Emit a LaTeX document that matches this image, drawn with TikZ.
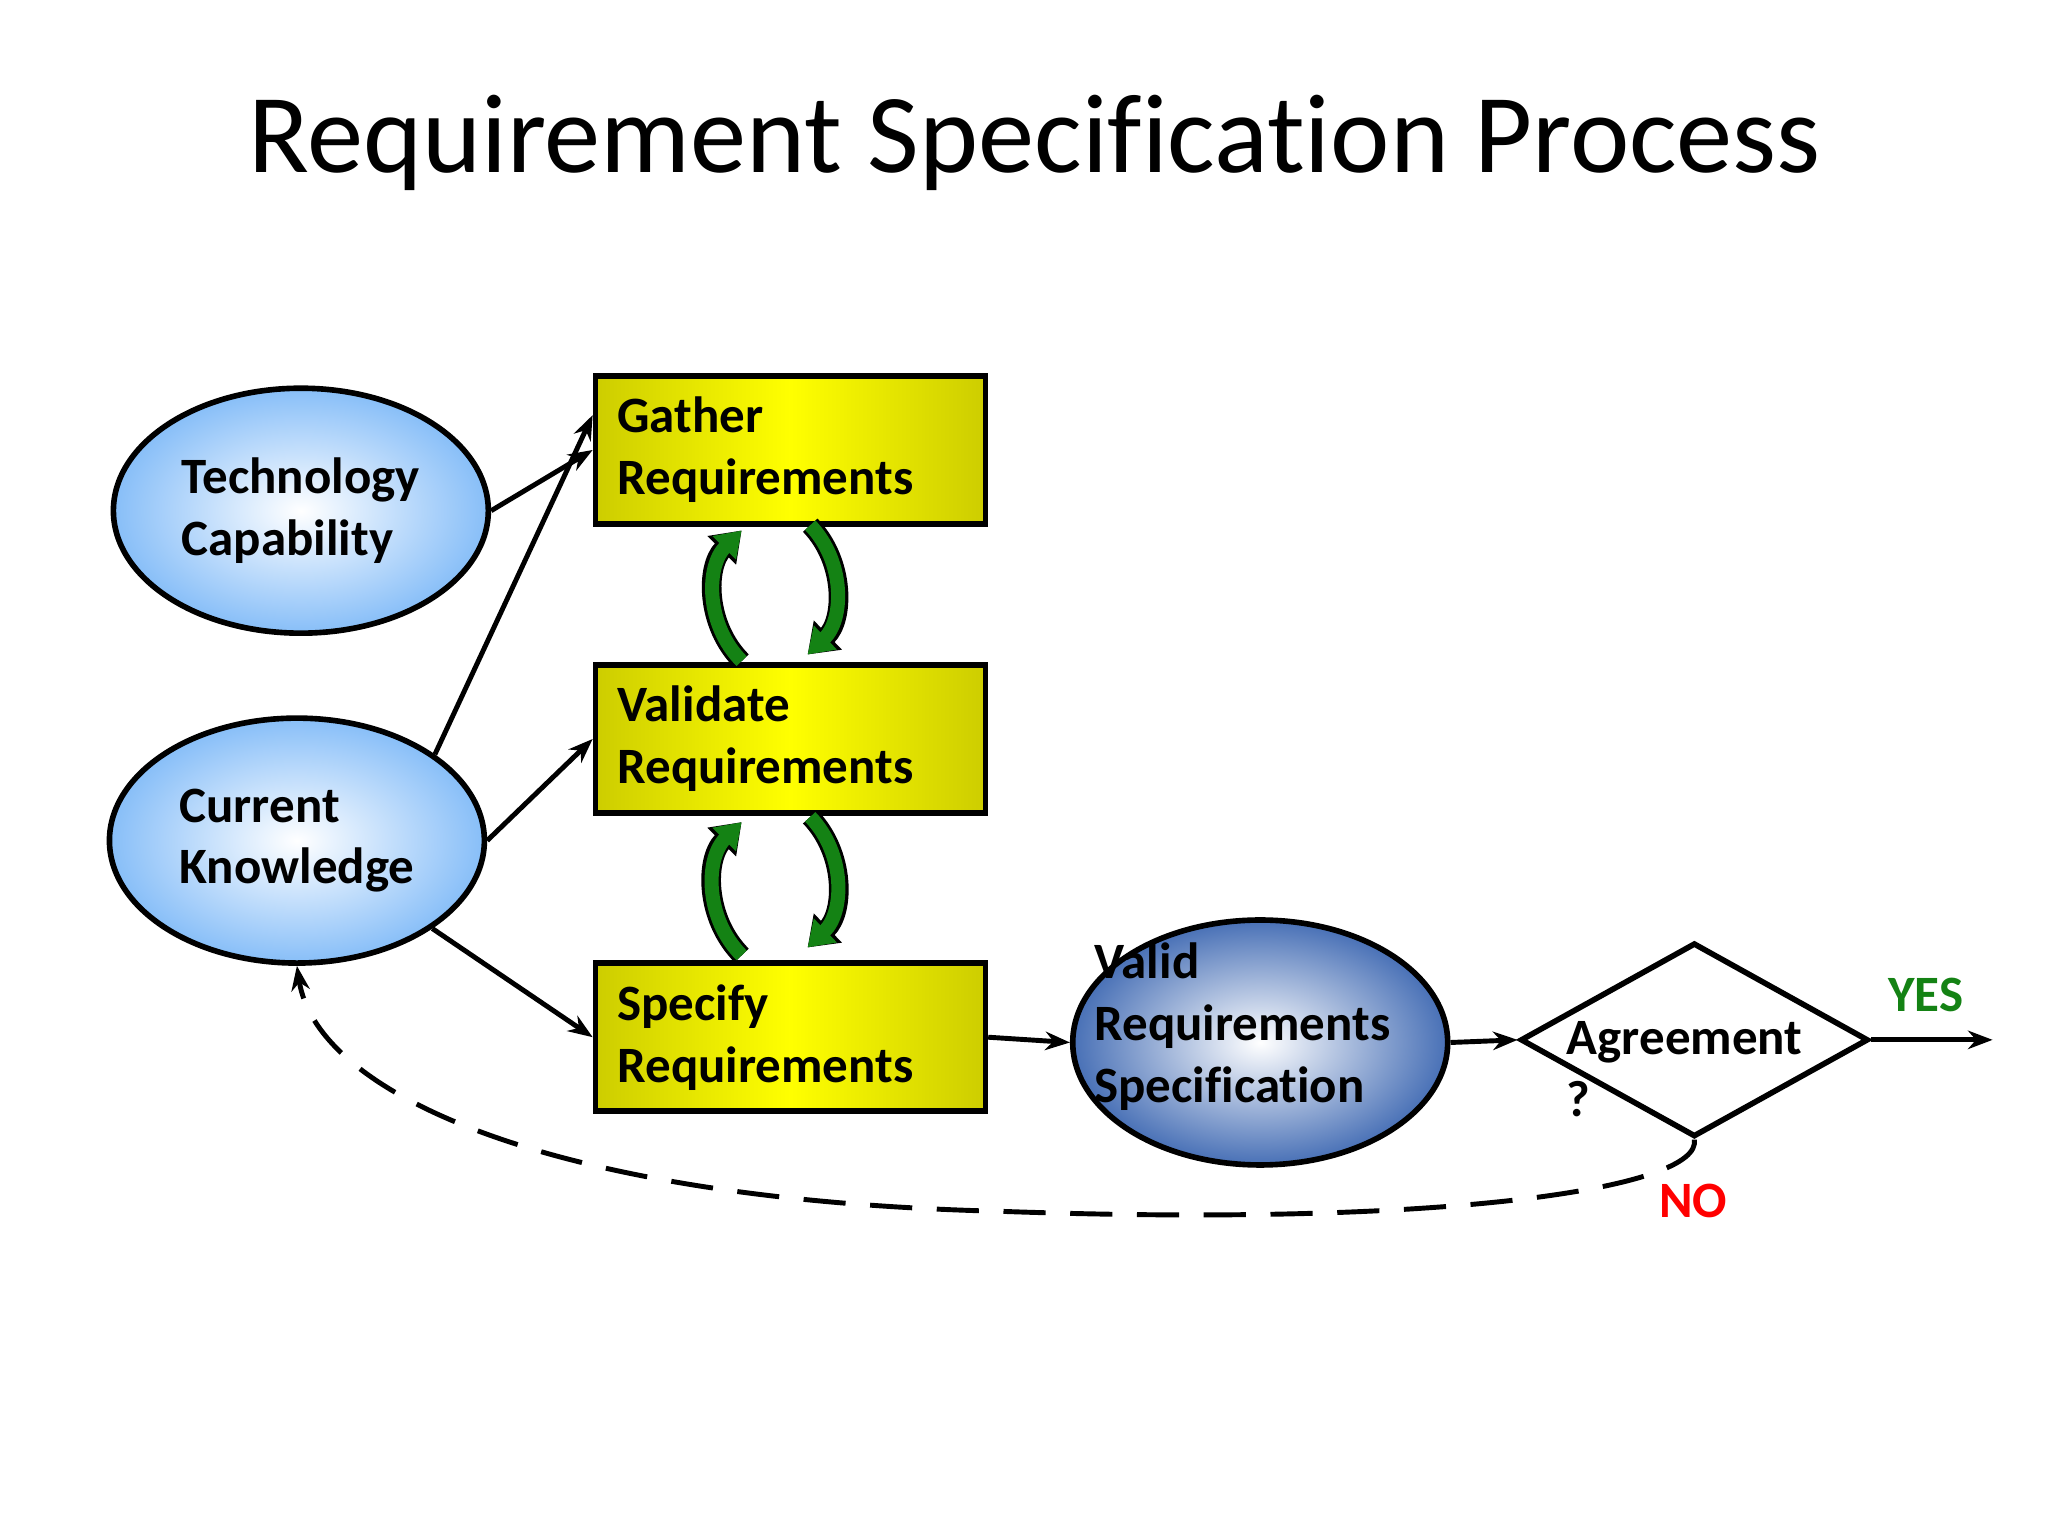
\documentclass[tikz,border=0pt]{standalone}
\usepackage{fontspec}
\setmainfont{Carlito}[Ligatures=NoCommon]
\usetikzlibrary{shapes.geometric,arrows.meta}
\definecolor{lightblue}{RGB}{135,190,248}
\definecolor{darkblue}{RGB}{72,112,182}
\definecolor{olive}{RGB}{205,205,0}
\definecolor{loopgreen}{RGB}{20,130,20}
\begin{document}
\begin{tikzpicture}[x=0.0132cm, y=-0.0132cm,
    label text/.style={font=\fontsize{14.5}{17.6}\selectfont\bfseries},
    blob/.style={ellipse, draw, line width=1.6pt, minimum width=3.75cm, minimum height=2.45cm, inner sep=0pt, align=left, label text, inner color=white, outer color=lightblue},
    box/.style={rectangle, draw, line width=1.6pt, minimum width=3.9cm, minimum height=1.48cm, text width=3.46cm, align=left, label text, left color=olive, right color=olive, middle color=yellow},
    arrow/.style={-{Stealth[length=7pt]}, line width=1.4pt},
    loop/.style={-{Triangle[length=7pt,width=9pt]}, line width=4pt, preaction={draw=black, line width=5.6pt, -{Triangle[length=8pt,width=11pt]}}, draw=loopgreen}
  ]
    \useasboundingbox (0,0) rectangle (1552,1164);
    \fill[white] (0,0) rectangle (1552,1164);
    % Title
    \node[font=\fontsize{32}{38}\selectfont] (title) at (784,108) {Requirement Specification Process};

    % Inputs
    \node[blob] (tech) at (228,387) {Technology\\Capability};
    \node[blob] (know) at (225,637) {Current\\Knowledge};

    % Boxes
    \node[box] (gather) at (599,341) {Gather\\Requirements};
    \node[box] (validate) at (599,560) {Validate\\Requirements};
    \node[box] (specify) at (599,786) {Specify\\Requirements};

    % Result and decision
    \node[blob, outer color=darkblue] (valid) at (955,790) {};
    \node[label text, align=left, anchor=west] (validtext) at (820,778) {Valid\\Requirements\\Specification};
    \node[diamond, draw, line width=1.6pt, minimum width=3.48cm, minimum height=1.94cm, inner sep=0pt] (agree) at (1284,788) {};
    \node[label text, align=left, anchor=west] (agreetext) at (1178,810) {Agreement\\?};
    \coordinate (out) at (1510,788);

    % Arrows
    \draw[arrow] (tech.east) -- (gather.west);
    \draw[arrow] (know.32) -- (gather.170);
    \draw[arrow] (know.east) -- (validate.west);
    \draw[arrow] (know.-33) -- (specify.west);
    \draw[arrow] (specify.east) -- (valid.west);
    \draw[arrow] (valid.east) -- (agree.west);
    \draw[arrow] (agree.east) -- node[above, text=loopgreen, label text, pos=0.45, yshift=4pt] {YES} (out);
    \draw[arrow, dash pattern=on 12pt off 7pt] (agree.south) .. controls (1290,900) and (1100,930) .. (760,918) .. controls (420,910) and (240,830) .. (know.south);
    \node[text=red, label text] (no) at (1283,910) {NO};

    % Iteration loops
    \coordinate (g1) at (562,402);  \coordinate (g2) at (614,398);
    \coordinate (v1) at (562,501);  \coordinate (v2) at (612,496);
    \coordinate (v3) at (562,623);  \coordinate (v4) at (614,619);
    \coordinate (s1) at (562,724);  \coordinate (s2) at (612,718);
    \draw[loop] (v1) to[bend left=45] (g1);
    \draw[loop] (g2) to[bend left=45] (v2);
    \draw[loop] (s1) to[bend left=45] (v3);
    \draw[loop] (v4) to[bend left=45] (s2);
  \end{tikzpicture}
\end{document}
